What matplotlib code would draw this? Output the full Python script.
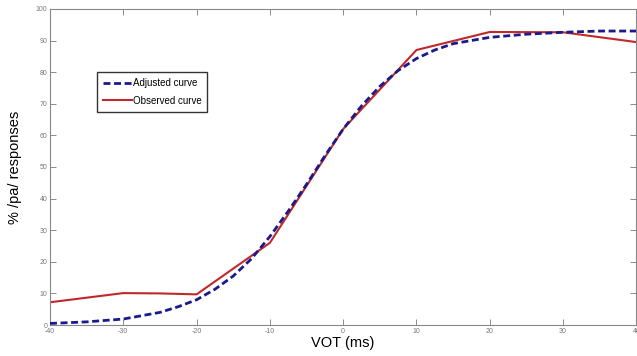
import numpy as np
import matplotlib.pyplot as plt

plt.rcParams["font.family"] = "Liberation Sans"
plt.rcParams["axes.unicode_minus"] = False

# VOT (ms) and % /pa/ responses
vot_adj = [-40, -35, -30, -25, -22.5, -20, -17.5, -15, -12.5, -10, -7.5, -5, -2.5, 0,
           2.5, 5, 7.5, 10, 12.5, 15, 20, 25, 30, 35, 40]
adjusted = [0.5, 1.0, 1.9, 4.0, 5.8, 8.0, 11.3, 15.5, 21.0, 28.0, 36.0, 44.5, 53.5, 62.0,
            69.3, 75.5, 80.5, 84.3, 87.0, 89.0, 91.0, 92.0, 92.6, 93.0, 93.0]

vot_obs = [-40, -30, -25, -20, -10, 0, 10, 20, 30, 40]
observed = [7.2, 10.1, 10.0, 9.7, 26.0, 62.0, 87.0, 92.7, 92.6, 89.5]

xticks = [-40, -30, -20, -10, 0, 10, 20, 30, 40]
yticks = [0, 10, 20, 30, 40, 50, 60, 70, 80, 90, 100]

fig = plt.figure(figsize=(6.37, 3.56), dpi=100)
ax = fig.add_axes([0.0785, 0.087, 0.9205, 0.888])

ax.plot(vot_adj, adjusted, color="#1a1a8c", linestyle=(0, (2.5, 1.3)), linewidth=2.0,
        label="Adjusted curve", zorder=3)
ax.plot(vot_obs, observed, color="#c0282a", linewidth=1.5, label="Observed curve", zorder=2)

ax.set_xlim(-40, 40)
ax.set_ylim(0, 100)
ax.set_xticks(xticks)
ax.set_yticks(yticks)
ax.tick_params(direction="in", length=4, width=0.6, colors="#777777", labelsize=5,
               top=True, right=True, pad=2)
for sp in ax.spines.values():
    sp.set_color("#888888")
    sp.set_linewidth(0.8)

ax.set_xlabel("VOT (ms)", fontsize=10.5, labelpad=1)
ax.set_ylabel("% /pa/ responses", fontsize=10.5, labelpad=10)

leg = ax.legend(loc="upper left", bbox_to_anchor=(0.08, 0.80), fontsize=7,
                frameon=True, fancybox=False, handlelength=3.0, handletextpad=0.1,
                borderpad=0.6, labelspacing=0.8, borderaxespad=0)
leg.get_frame().set_edgecolor("black")
leg.get_frame().set_linewidth(1.0)

fig.savefig("out.png", dpi=100)
